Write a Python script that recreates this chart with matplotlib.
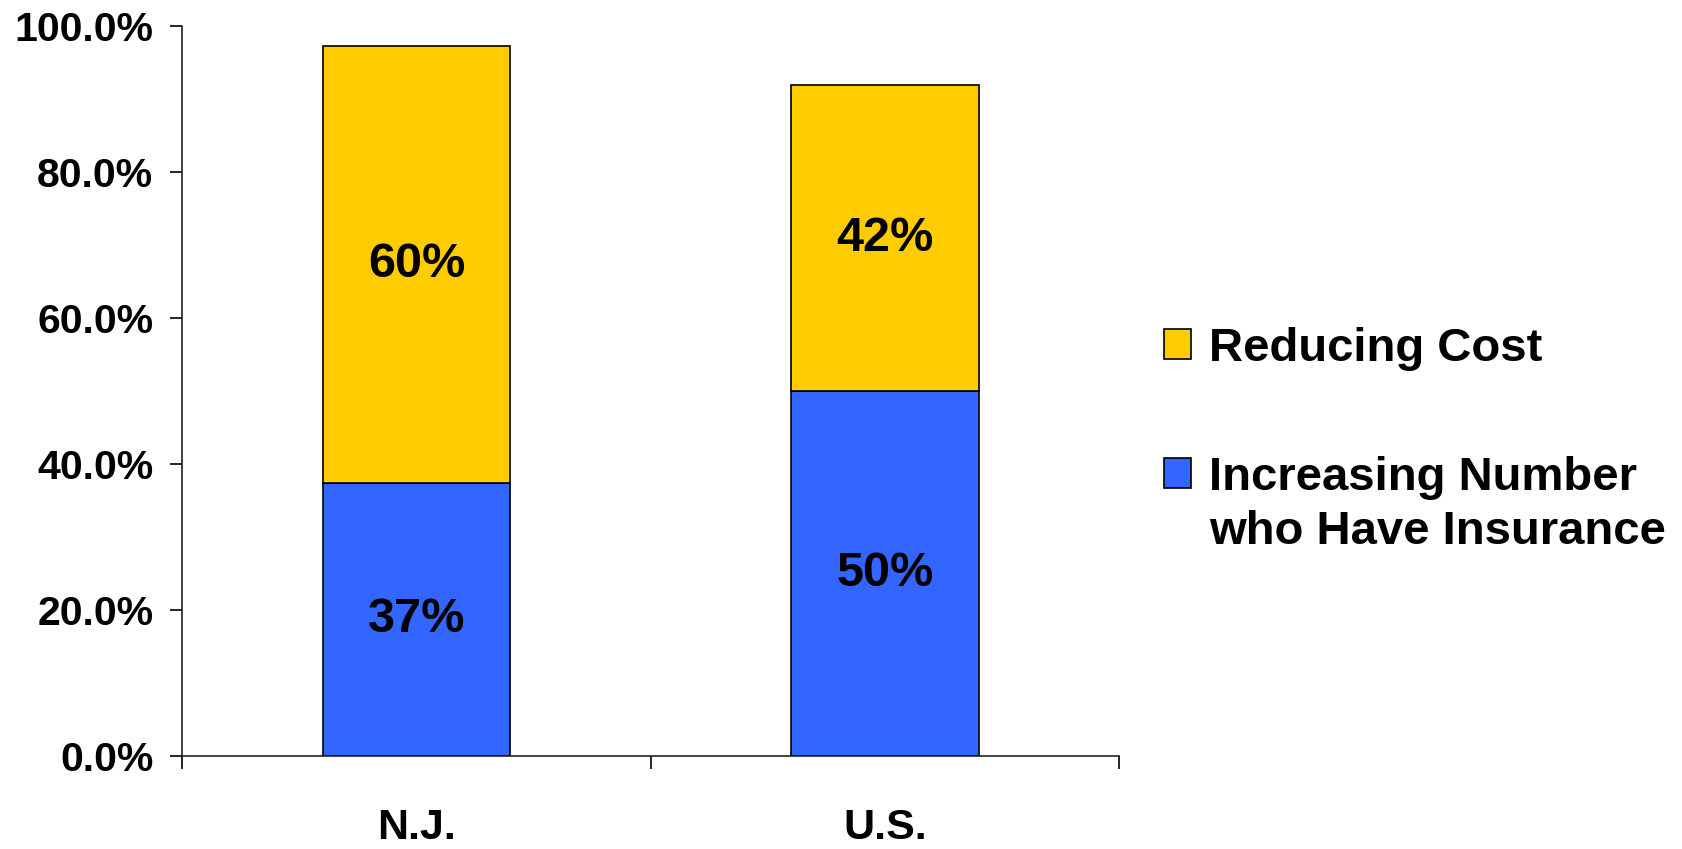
import matplotlib
matplotlib.use("Agg")
import matplotlib.pyplot as plt
from matplotlib.patches import Patch
from matplotlib.ticker import FuncFormatter, FixedLocator

plt.rcParams['font.family'] = ['Liberation Sans', 'DejaVu Sans']
plt.rcParams['font.weight'] = 'bold'

categories = ['N.J.', 'U.S.']
increasing = [37.3, 49.9]
reducing = [59.9, 42.0]
increasing_labels = ['37%', '50%']
reducing_labels = ['60%', '42%']
legend_first = ['Reducing Cost', 'Increasing Number']
legend_wrap = 'who Have Insurance'

blue = '#3366FF'
yellow = '#FFCC00'

fig = plt.figure(figsize=(16.83, 8.49), dpi=100)
ax = fig.add_axes([0.1084, 0.110, 0.5566, 0.8596])

x = list(range(len(categories)))
ax.bar(x, increasing, width=0.4, color=blue, edgecolor='black', linewidth=1.2)
ax.bar(x, reducing, width=0.4, bottom=increasing, color=yellow,
       edgecolor='black', linewidth=1.2)

for i in x:
    ax.text(i, increasing[i] / 2, increasing_labels[i], ha='center', va='center',
            fontsize=35, fontweight='bold')
    ax.text(i, increasing[i] + reducing[i] / 2, reducing_labels[i], ha='center',
            va='center', fontsize=35, fontweight='bold')

ax.set_xlim(-0.5, 1.5)
ax.set_ylim(0, 100)
ax.set_yticks([0, 20, 40, 60, 80, 100])
ax.yaxis.set_major_formatter(FuncFormatter(lambda v, p: f"{v:.1f}%"))
ax.tick_params(axis='y', labelsize=29.5, length=9, width=1.2, pad=12, direction='out')

ax.set_xticks(x)
ax.set_xticklabels(categories, fontsize=31, fontweight='bold')
ax.tick_params(axis='x', which='major', length=0, pad=38)
ax.xaxis.set_minor_locator(FixedLocator([-0.5, 0.5, 1.5]))
ax.tick_params(axis='x', which='minor', length=9, width=1.2, direction='out')

for lab in ax.get_yticklabels():
    lab.set_fontweight('bold')

for side in ['top', 'right']:
    ax.spines[side].set_visible(False)
for side in ['left', 'bottom']:
    ax.spines[side].set_linewidth(1.2)
    ax.spines[side].set_color('#222222')

# legend: yellow on top, blue entry wraps with its handle on the first line
handles = [Patch(facecolor=yellow, edgecolor='black', linewidth=1.2),
           Patch(facecolor=blue, edgecolor='black', linewidth=1.2)]
leg = fig.legend(handles, legend_first, loc='center left',
                 bbox_to_anchor=(0.6916, 0.5133),
                 frameon=False, prop={'size': 34, 'weight': 'bold'},
                 handlelength=0.57, handleheight=0.57, handletextpad=0.39,
                 labelspacing=1.8, borderpad=0, borderaxespad=0)

fig.canvas.draw()
bb = leg.get_texts()[1].get_window_extent()
inv = fig.transFigure.inverted()
x0, yc = inv.transform((bb.x0, (bb.y0 + bb.y1) / 2))
fig.text(x0, yc - 54 / 849, legend_wrap, ha='left', va='center',
         fontsize=34, fontweight='bold')

fig.savefig('out.png', dpi=100)
